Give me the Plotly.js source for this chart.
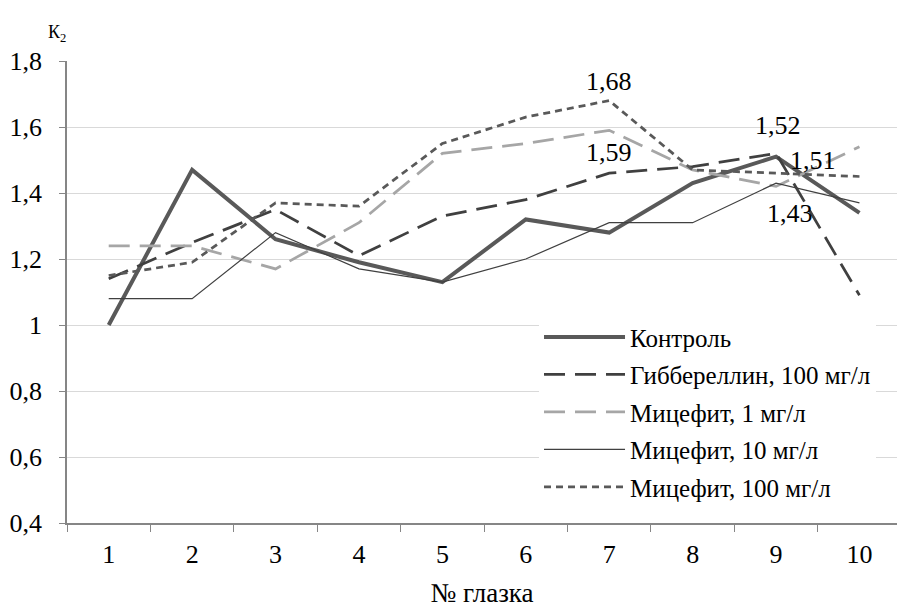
<!DOCTYPE html>
<html>
<head>
<meta charset="utf-8">
<script src="https://cdn.plot.ly/plotly-3.0.1.min.js"></script>
<style>html,body{margin:0;padding:0;background:#fff;}#chart{width:897px;height:608px;}</style>
</head>
<body>
<div id="chart"></div>
<script>
var categories = ["1","2","3","4","5","6","7","8","9","10"];
var seriesNames = ["Контроль","Гиббереллин, 100 мг/л","Мицефит, 1 мг/л","Мицефит, 10 мг/л","Мицефит, 100 мг/л"];
var control     = [1.00, 1.47, 1.26, 1.19, 1.13, 1.32, 1.28, 1.43, 1.51, 1.34];
var gibberellin = [1.14, 1.25, 1.35, 1.21, 1.33, 1.38, 1.46, 1.48, 1.52, 1.09];
var mycefit1    = [1.24, 1.24, 1.17, 1.31, 1.52, 1.55, 1.59, 1.47, 1.42, 1.54];
var mycefit10   = [1.08, 1.08, 1.28, 1.17, 1.13, 1.20, 1.31, 1.31, 1.43, 1.37];
var mycefit100  = [1.15, 1.19, 1.37, 1.36, 1.55, 1.63, 1.68, 1.47, 1.46, 1.45];
var yTickVals = [0.4, 0.6, 0.8, 1.0, 1.2, 1.4, 1.6, 1.8];
var yTickText = ["0,4","0,6","0,8","1","1,2","1,4","1,6","1,8"];

// labelled points: [series array, category index, dx, dy]
var labelled = [
  [mycefit100, 6, 0, -19],
  [mycefit1, 6, 0, 22],
  [gibberellin, 8, 2, -28],
  [control, 8, 37, 4],
  [mycefit10, 8, 14, 30]
];

var FAM = "Liberation Serif";
function fmt(v){ return v.toFixed(2).replace(".", ","); }

var traces = [
  {x: categories, y: control, name: seriesNames[0], legendgroup: "a", type: "scatter", mode: "lines",
   line: {color: "#595959", width: 4}},
  {x: categories, y: gibberellin, name: seriesNames[1], legendgroup: "b", type: "scatter", mode: "lines",
   line: {color: "#404040", width: 2.75, dash: "21px,10px"}},
  {x: categories, y: mycefit1, name: seriesNames[2], legendgroup: "c", type: "scatter", mode: "lines",
   line: {color: "#a6a6a6", width: 2.75, dash: "21px,10px"}},
  {x: categories, y: mycefit10, name: seriesNames[3], legendgroup: "d", type: "scatter", mode: "lines",
   line: {color: "#404040", width: 1.2}},
  {x: categories, y: mycefit100, name: seriesNames[4], legendgroup: "e", type: "scatter", mode: "lines",
   line: {color: "#595959", width: 2.75, dash: "7px,5px"}}
];

var annotations = labelled.map(function(l){
  return {x: l[1], y: l[0][l[1]], xref: "x", yref: "y", text: fmt(l[0][l[1]]),
    showarrow: true, arrowcolor: "rgba(0,0,0,0)", ax: l[2], ay: l[3],
    font: {family: FAM, size: 26, color: "#000"}};
});
annotations.push({xref: "paper", yref: "paper", x: -0.025, y: 1.03, xanchor: "left", yanchor: "bottom",
  text: "К<sub>2</sub>", showarrow: false, font: {family: FAM, size: 18, color: "#000"}});

var layout = {
  width: 897, height: 608,
  margin: {l: 67, r: 0, t: 61, b: 85},
  paper_bgcolor: "#fff", plot_bgcolor: "#fff",
  showlegend: true,
  font: {family: FAM, size: 26, color: "#000"},
  xaxis: {type: "category", range: [-0.5, 9.45], tickson: "boundaries",
    ticks: "outside", ticklen: 7, tickcolor: "#868686", tickwidth: 1,
    showline: true, linecolor: "#868686", linewidth: 1.5, showgrid: false,
    tickfont: {family: FAM, size: 26, color: "#000"}, ticklabelstandoff: 7,
    title: {text: "№ глазка", font: {family: FAM, size: 27, color: "#000"}, standoff: 17}},
  yaxis: {range: [0.4, 1.8], tickvals: yTickVals, ticktext: yTickText,
    ticks: "outside", ticklen: 6, tickcolor: "#868686", tickwidth: 1,
    showline: true, linecolor: "#868686", linewidth: 1.5,
    showgrid: true, gridcolor: "#d9d9d9", gridwidth: 1, zeroline: false,
    tickfont: {family: FAM, size: 26, color: "#000"}, ticklabelstandoff: 12},
  legend: {x: 0.5687, y: 0.452, xanchor: "left", yanchor: "top", bgcolor: "#fff",
    font: {family: FAM, size: 25, color: "#000"}, tracegroupgap: 2, itemwidth: 81},
  annotations: annotations
};

Plotly.newPlot("chart", traces, layout, {displayModeBar: false});
</script>
</body>
</html>
